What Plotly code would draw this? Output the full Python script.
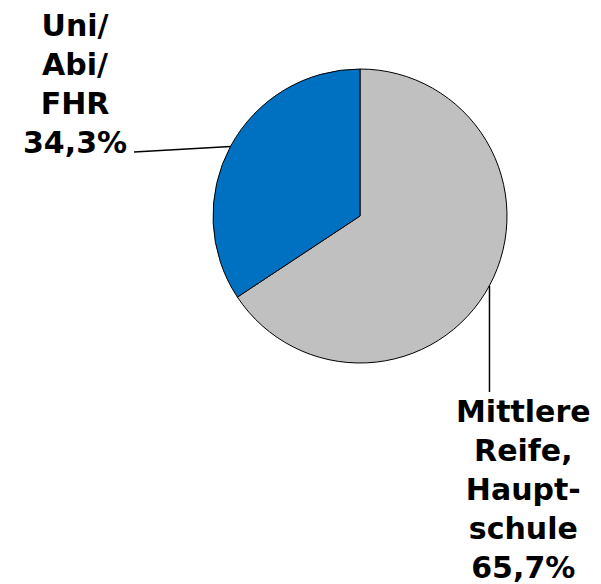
import math
import plotly.graph_objects as go

# Daten
labels = ["Mittlere Reife, Hauptschule", "Uni/Abi/FHR"]
values = [65.7, 34.3]
label_texts = ["Mittlere<br>Reife,<br>Haupt-<br>schule<br>65,7%", "Uni/<br>Abi/<br>FHR<br>34,3%"]
colors = ["#C0C0C0", "#0070C0"]

W, H = 601, 584
CX, CY, R = 360, 216, 147
FONT = "Verdana, DejaVu Sans, sans-serif"


def px(x):
    return x / W


def py(y):
    return 1 - y / H


fig = go.Figure(go.Pie(
    labels=labels,
    values=values,
    sort=False,
    direction="clockwise",
    rotation=0,
    marker=dict(colors=colors, line=dict(color="black", width=1)),
    textinfo="none",
    hoverinfo="label+percent",
    domain=dict(x=[px(CX - R), px(CX + R)], y=[py(CY + R), py(CY - R)]),
))

# Führungslinien ab Segmentmitte am Kreisrand
total = sum(values)
start = 0.0
mids = []
for v in values:
    mids.append((start + v / 2) / total * 2 * math.pi)
    start += v

shapes = []
# Mittlere Reife: senkrecht nach unten
ax = CX + R * math.sin(mids[0])
ay = CY - R * math.cos(mids[0])
shapes.append(dict(type="line", xref="paper", yref="paper",
                   x0=px(ax), y0=py(ay), x1=px(ax), y1=py(392),
                   line=dict(color="black", width=1.5)))
# Uni/Abi: nach links
bx = CX + R * math.sin(mids[1])
by = CY - R * math.cos(mids[1])
shapes.append(dict(type="line", xref="paper", yref="paper",
                   x0=px(bx), y0=py(by), x1=px(134), y1=py(152),
                   line=dict(color="black", width=1.5)))

fig.add_annotation(text=label_texts[1], x=px(75), y=py(84), xref="paper", yref="paper",
                   showarrow=False, xanchor="center", yanchor="middle", align="center",
                   font=dict(family=FONT, size=30, color="black", weight="bold"))
fig.add_annotation(text=label_texts[0], x=px(523), y=py(489), xref="paper", yref="paper",
                   showarrow=False, xanchor="center", yanchor="middle", align="center",
                   font=dict(family=FONT, size=30, color="black", weight="bold"))

fig.update_layout(
    width=W, height=H,
    margin=dict(t=0, b=0, l=0, r=0),
    showlegend=False,
    paper_bgcolor="white",
    plot_bgcolor="white",
    shapes=shapes,
)

fig.write_html("out.html", config=dict(displayModeBar=False),
               post_script="document.body.style.margin='0';")
